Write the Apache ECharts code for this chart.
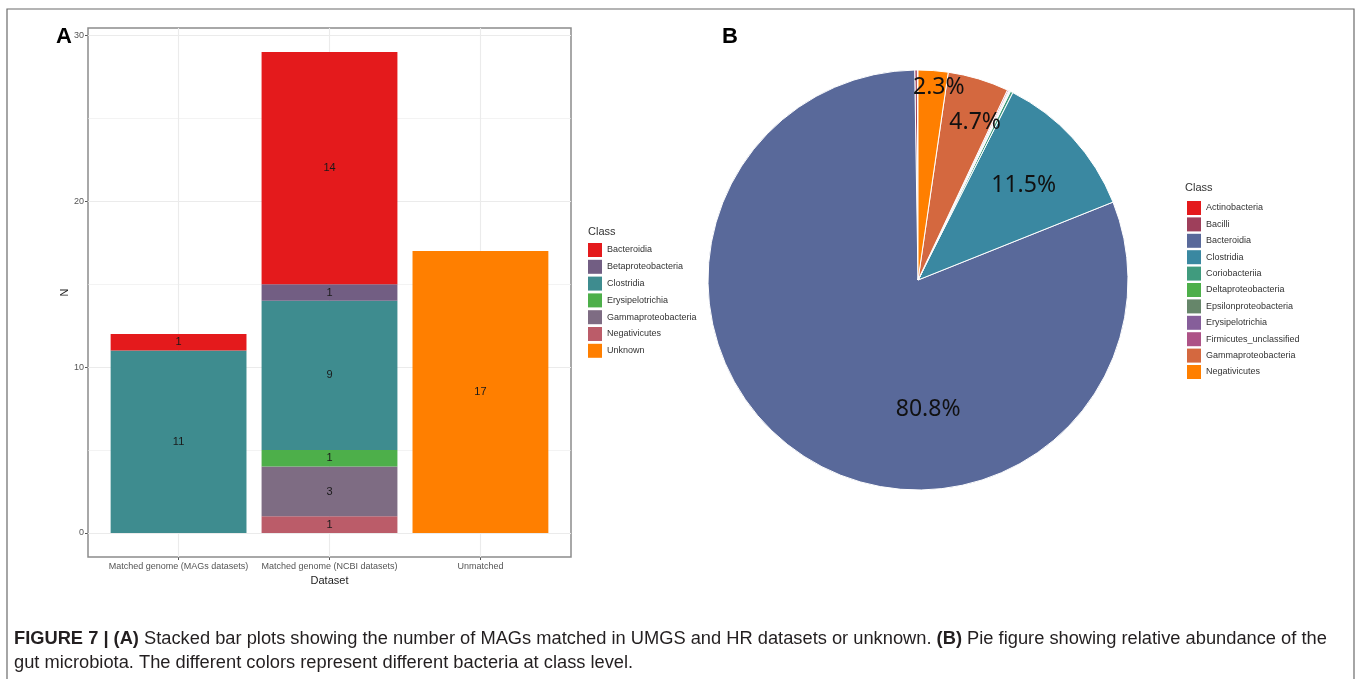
<!DOCTYPE html>
<html>
<head>
<meta charset="utf-8">
<script src="https://cdn.jsdelivr.net/npm/echarts@6/dist/echarts.min.js"></script>
<style>
  html, body { margin: 0; padding: 0; background: #ffffff; }
  #chart { width: 1358px; height: 679px; }
</style>
</head>
<body>
<div id="chart"></div>
<script>
// ---- Panel A: MAG counts per dataset, split by class ----
const datasets = ['Matched genome (MAGs datasets)', 'Matched genome (NCBI datasets)', 'Unmatched'];
const barClasses = ['Bacteroidia', 'Betaproteobacteria', 'Clostridia', 'Erysipelotrichia',
                    'Gammaproteobacteria', 'Negativicutes', 'Unknown'];
const barColors = ['#E41A1C', '#725E83', '#3E8C8F', '#4DAF4A', '#7E6C83', '#BB5C69', '#FF7F00'];

const nBacteroidia        = [1, 14, null];
const nBetaproteobacteria = [null, 1, null];
const nClostridia         = [11, 9, null];
const nErysipelotrichia   = [null, 1, null];
const nGammaproteobacteria= [null, 3, null];
const nNegativicutes      = [null, 1, null];
const nUnknown            = [null, null, 17];

const yTicks = [0, 10, 20, 30];

// ---- Panel B: relative abundance (%) by class ----
const pieClasses = ['Actinobacteria', 'Bacilli', 'Bacteroidia', 'Clostridia', 'Coriobacteriia',
                    'Deltaproteobacteria', 'Epsilonproteobacteria', 'Erysipelotrichia',
                    'Firmicutes_unclassified', 'Gammaproteobacteria', 'Negativicutes'];
const pieShares = [0.05, 0.2, 80.8, 11.5, 0.2, 0.05, 0.05, 0.05, 0.1, 4.7, 2.3];
const pieColors = ['#E41A1C', '#9E3F5B', '#59699A', '#3A88A1', '#409B7E', '#4DAF4A',
                   '#66866A', '#865E9A', '#AD5387', '#D4683F', '#FF7F00'];

const FONT = '"Liberation Sans", Arial, sans-serif';

const barValues = {
  Bacteroidia: nBacteroidia,
  Betaproteobacteria: nBetaproteobacteria,
  Clostridia: nClostridia,
  Erysipelotrichia: nErysipelotrichia,
  Gammaproteobacteria: nGammaproteobacteria,
  Negativicutes: nNegativicutes,
  Unknown: nUnknown
};

// plot panel, with ggplot-like expansion on both axes
// (discrete x: 0.6 of a category on each side, i.e. an x range of 0.4 .. n + 0.6)
const panel = { left: 88, top: 28, width: 483, height: 529 };
const yMin = -1.45, yMax = 30.45;
const band = panel.width / (datasets.length + 0.2);
const barPanel = { left: panel.left + 0.1 * band, top: panel.top, width: band * datasets.length, height: panel.height };

const gridLine = (v, axis, w) => ({ [axis]: v, lineStyle: { color: '#ebebeb', width: w, type: 'solid' } });
const gridLines = [];
[0, 10, 20, 30].forEach(v => gridLines.push(gridLine(v, 'yAxis', 1.1)));
[5, 15, 25].forEach(v => gridLines.push(gridLine(v, 'yAxis', 0.6)));
[1, 2, 3].forEach(v => gridLines.push(gridLine(v, 'xAxis', 1.1)));

// stacked from the bottom: last legend entry first
const barSeries = barClasses.slice().reverse().map(name => ({
  name: name,
  type: 'bar',
  xAxisIndex: 1,
  yAxisIndex: 1,
  stack: 'n',
  barCategoryGap: '10%',
  itemStyle: { color: barColors[barClasses.indexOf(name)] },
  label: {
    show: true, position: 'inside', fontSize: 11, color: '#1a1a1a', fontFamily: FONT
  },
  data: barValues[name],
  z: 3
}));

const pieNudge = {
  Bacteroidia: [70, 40],
  Clostridia: [26, -22],
  Gammaproteobacteria: [26, -54],
  Negativicutes: [13, -85]
};

const pieData = pieClasses.map((name, i) => ({
  name: name,
  value: pieShares[i],
  itemStyle: { color: pieColors[i] },
  label: { show: pieShares[i] >= 1 }
}));

const legendItems = (names, colors) => names.map((n, i) => ({
  name: n,
  icon: 'rect',
  itemStyle: { color: colors[i], borderWidth: 0, borderColor: 'transparent' }
}));

const chart = echarts.init(document.getElementById('chart'), null, { renderer: 'canvas' });

chart.setOption({
  animation: false,
  backgroundColor: '#ffffff',
  grid: [
    { left: panel.left, top: panel.top, width: panel.width, height: panel.height,
      outerBoundsMode: 'none', containLabel: false,
      show: true, borderColor: '#8c8c8c', borderWidth: 1.5, backgroundColor: 'transparent', z: 1 },
    { left: barPanel.left, top: barPanel.top, width: barPanel.width, height: barPanel.height,
      outerBoundsMode: 'none', containLabel: false }
  ],
  xAxis: [
    { gridIndex: 0, type: 'value', min: 0.4, max: 3.6, show: false },
    { gridIndex: 1, type: 'category', data: datasets,
      axisLine: { show: false, onZero: false },
      axisTick: { show: true, alignWithLabel: true, length: 3, lineStyle: { color: '#555' } },
      axisLabel: { fontSize: 9, color: '#555', margin: 5, fontFamily: FONT, interval: 0, hideOverlap: false },
      splitLine: { show: false },
      name: 'Dataset', nameLocation: 'middle', nameGap: 12,
      nameTextStyle: { fontSize: 11, color: '#222', fontFamily: FONT } }
  ],
  yAxis: [
    { gridIndex: 0, type: 'value', min: yMin, max: yMax,
      axisLine: { show: false },
      axisTick: { show: true, customValues: yTicks, length: 3, lineStyle: { color: '#555' } },
      axisLabel: { show: true, customValues: yTicks, fontSize: 9, color: '#555', margin: 4, fontFamily: FONT },
      splitLine: { show: false },
      name: 'N', nameLocation: 'middle', nameGap: 17, nameRotate: 90,
      nameTextStyle: { fontSize: 11, color: '#222', fontFamily: FONT } },
    { gridIndex: 1, type: 'value', min: yMin, max: yMax, show: false }
  ],
  legend: [
    { data: legendItems(barClasses, barColors), orient: 'vertical', left: 583, top: 238,
      itemWidth: 14, itemHeight: 14, itemGap: 2.8, selectedMode: false,
      textStyle: { fontSize: 9, color: '#333', fontFamily: FONT } },
    { data: legendItems(pieClasses, pieColors), orient: 'vertical', left: 1182, top: 196,
      itemWidth: 14, itemHeight: 14, itemGap: 2.4, selectedMode: false,
      textStyle: { fontSize: 9, color: '#333', fontFamily: FONT } }
  ],
  series: [
    { type: 'line', name: '_grid', xAxisIndex: 0, yAxisIndex: 0, data: [], silent: true, z: 1,
      markLine: { silent: true, symbol: ['none', 'none'], label: { show: false }, z: 1,
                  animation: false, data: gridLines } },
    ...barSeries,
    { type: 'pie', name: 'Relative abundance', center: [918, 280], radius: 210,
      startAngle: 90, clockwise: false, silent: true,
      itemStyle: { borderColor: '#ffffff', borderWidth: 1 },
      label: { show: true, position: 'inside', formatter: '{c}%', fontSize: 23,
               color: '#111', fontFamily: '"Noto Sans", sans-serif' },
      labelLine: { show: false },
      labelLayout: function (p) {
        const n = pieNudge[pieClasses[p.dataIndex]];
        return n ? { dx: n[0], dy: n[1] } : {};
      },
      emphasis: { disabled: true },
      data: pieData }
  ],
  graphic: [
    { type: 'rect', shape: { x: 7, y: 9, width: 1347, height: 720 },
      style: { fill: 'none', stroke: '#6b6b6b', lineWidth: 1.2 }, silent: true },
    { type: 'text', left: 56, top: 26,
      style: { text: 'A', fontSize: 22, fontWeight: 'bold', fontFamily: FONT, fill: '#000' } },
    { type: 'text', left: 722, top: 26,
      style: { text: 'B', fontSize: 22, fontWeight: 'bold', fontFamily: FONT, fill: '#000' } },
    { type: 'text', left: 588, top: 226,
      style: { text: 'Class', fontSize: 11, fontFamily: FONT, fill: '#333' } },
    { type: 'text', left: 1185, top: 182,
      style: { text: 'Class', fontSize: 11, fontFamily: FONT, fill: '#333' } },
    { type: 'text', left: 14, top: 627,
      style: {
        text: '{b|FIGURE 7 | (A)} Stacked bar plots showing the number of MAGs matched in UMGS and HR datasets or unknown. {b|(B)} Pie figure showing relative abundance of the\ngut microbiota. The different colors represent different bacteria at class level.',
        fontSize: 18.3, fontFamily: FONT, fill: '#231f20', lineHeight: 24,
        rich: { b: { fontWeight: 'bold', fontSize: 18.3, fontFamily: FONT, fill: '#231f20', lineHeight: 24 } }
      } }
  ]
});
</script>
</body>
</html>
